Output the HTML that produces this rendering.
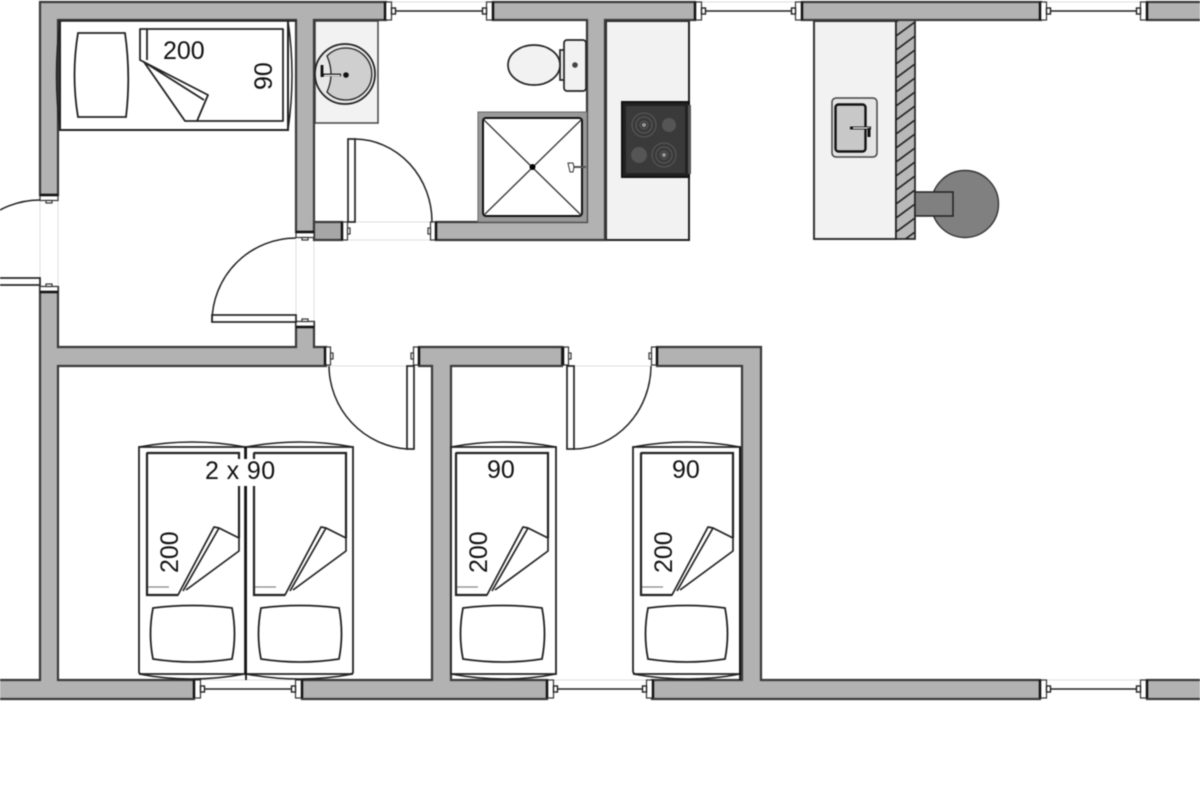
<!DOCTYPE html>
<html><head><meta charset="utf-8"><title>Floor plan</title>
<style>html,body{margin:0;padding:0;background:#fff}svg{display:block;filter:blur(.4px)}text{font-family:"Liberation Sans",sans-serif;font-size:25px;fill:#111}</style>
</head><body>
<svg width="1200" height="800" viewBox="0 0 1200 800" xmlns="http://www.w3.org/2000/svg">
<defs>
<pattern id="h" width="19" height="14" patternUnits="userSpaceOnUse" patternTransform="translate(896,8)">
<rect width="19" height="14" fill="#b8b8b8"/><path d="M0 14L19 0" stroke="#222" stroke-width="1.7" fill="none"/></pattern>
<g id="j"><rect x=".5" y="0" width="6" height="18" fill="#fff" stroke="#333" stroke-width="1.2"/><path d="M0 0V18" stroke="#111" stroke-width="2.4"/><rect x="6.5" y="6" width="4" height="6" fill="#fff" stroke="#222" stroke-width="1.4"/></g>
<g id="d"><rect x=".5" y="0" width="5" height="18" fill="#fff" stroke="#333" stroke-width="1.2"/><path d="M0 0V18" stroke="#111" stroke-width="2.4"/><rect x="5.500" y="6" width="2.500" height="6" fill="#fff" stroke="#333" stroke-width="1.2"/></g>
<g id="s" fill="none" stroke="#222" stroke-width="2">
<path d="M0 142V0H92V98L39 137M0 142H31L67 74L72 75L92 85M36 138L72 75" stroke-linejoin="round" stroke-width="1.7"/>
<path d="M0 0H92V85M0 0V142H31" stroke-width="2.2"/>
<path d="M1 134H22" stroke="#888" stroke-width="1.2"/>
</g>
</defs>
<rect width="1200" height="800" fill="#fff"/>

<!-- faint opening lines -->
<g stroke="#dedede" stroke-width="1" fill="none">
<path d="M40 200V285M58 200V285M296 240V322M314 240V322M349 222H436M349 240H436M331 366H412M569 366H652"/>
<path d="M391 2H486M701 2H797M1047 2H1141M200 680H296M553 680H647M1047 680H1141"/>
</g>

<!-- furniture fills -->
<rect x="315" y="21" width="63" height="102" fill="#f2f2f2" stroke="#444" stroke-width="1.5"/>
<rect x="606" y="21" width="83" height="219" fill="#f2f2f2" stroke="#222" stroke-width="2"/>
<rect x="814" y="21" width="82" height="218" fill="#f2f2f2" stroke="#333" stroke-width="2"/>
<rect x="896" y="18" width="19" height="221" fill="url(#h)" stroke="#222" stroke-width="1.700"/>

<!-- walls -->
<g fill="#b2b2b2" stroke="#3a3a3a" stroke-width="2.200" stroke-linejoin="miter">
<path d="M40 2H386V20H314V232H296V20H58V195H40Z"/>
<rect x="314" y="222" width="28" height="18" fill="#a6a6a6"/>
<path d="M493 2H695V20H605V240H436V222H587V20H493Z"/>
<rect x="802" y="2" width="239" height="18"/>
<rect x="1147" y="2" width="60" height="18"/>
<path d="M40 287H58V347H296V322H314V347H326V366H58V680H194V699H-5V680H40Z"/>
<path d="M419 347H562V366H451V680H547V699H302V680H432V366H419Z"/>
<path d="M657 347H761V680H1040V699H652V680H742V366H657Z"/>
<rect x="1147" y="680" width="60" height="19"/>
</g>

<!-- window jambs and lines -->
<g>
<path d="M395 11H482M705 11H793M1051 11H1137M204 689H292M557 689H643M1051 689H1137" stroke="#222" stroke-width="1.600"/>
<use href="#j" transform="translate(385,2)"/><use href="#j" transform="translate(493,2) scale(-1,1)"/>
<use href="#j" transform="translate(695,2)"/><use href="#j" transform="translate(802,2) scale(-1,1)"/>
<use href="#j" transform="translate(1040,2)"/><use href="#j" transform="translate(1147,2) scale(-1,1)"/>
<use href="#j" transform="translate(194,680)"/><use href="#j" transform="translate(302,680) scale(-1,1)"/>
<use href="#j" transform="translate(547,680)"/><use href="#j" transform="translate(653,680) scale(-1,1)"/>
<use href="#j" transform="translate(1040,680)"/><use href="#j" transform="translate(1147,680) scale(-1,1)"/>
</g>

<!-- door jambs -->
<use href="#d" transform="translate(58,195) rotate(90)"/>
<use href="#d" transform="translate(40,292) rotate(-90)"/>
<use href="#d" transform="translate(314,232) rotate(90)"/>
<use href="#d" transform="translate(296,327) rotate(-90)"/>
<use href="#d" transform="translate(342,222)"/>
<use href="#d" transform="translate(436,222) scale(-1,1)"/>
<use href="#d" transform="translate(325,347)"/>
<use href="#d" transform="translate(419,347) scale(-1,1)"/>
<use href="#d" transform="translate(563,347)"/>
<use href="#d" transform="translate(657,347) scale(-1,1)"/>

<!-- doors -->
<g fill="#fff" stroke="#222" stroke-width="1.700">
<rect x="-4" y="278" width="44" height="7"/>
<rect x="212" y="315" width="84" height="7"/>
<rect x="348" y="139" width="7" height="83"/>
<rect x="407" y="366" width="7" height="83"/>
<rect x="567" y="366" width="7" height="83"/>
</g>
<g fill="none" stroke="#222" stroke-width="1.500">
<path d="M40 200A85 85 0 0 0 -45 285"/>
<path d="M296 238A84 84 0 0 0 212 322"/>
<path d="M355 139A78 83 0 0 1 432 222"/>
<path d="M329 366A84 84 0 0 0 407 449"/>
<path d="M574 449A78 84 0 0 0 651 366"/>
</g>

<!-- top bed -->
<g fill="none" stroke="#222" stroke-width="1.800">
<path d="M60 21V130H288V21" fill="#fff" stroke-width="2"/>
<path d="M60 21Q53 75 60 130M288 21Q296 75 288 130M58 21H296" stroke-width="1.500"/>
<path d="M78 33H125Q131 75 126 117H78Q71 75 78 33Z"/>
<path d="M140 60V29H283V121H185L144 62L140 60L208 95L197 121M147 29V60M144 62L204 100" stroke-linejoin="round"/>
</g>

<!-- bottom beds outer -->
<g fill="#fff" stroke="#222" stroke-width="1.800">
<path d="M139 447V672Q139 674 142 674H245V447Z"/>
<path d="M246 447V674H350Q353 674 353 672V447Z"/>
<path d="M451 447V674H556V447Z"/>
<path d="M633 447V671Q633 674 636 674H740V447Z"/>
</g>
<g fill="none" stroke="#222" stroke-width="1.500">
<path d="M139 447Q192 437 245 447M246 447Q300 437 353 447M451 447Q503 437 556 447M633 447Q687 437 740 447"/>
<path d="M139 674Q190 684 245 674M246 674Q300 684 353 674M451 674Q505 684 556 674M633 674Q690 684 740 674"/>
</g>
<path d="M246 447V680" stroke="#111" stroke-width="1.800"/>
<path d="M740 447V680" stroke="#111" stroke-width="1.800"/>
<use href="#s" transform="translate(147,453)"/>
<use href="#s" transform="translate(254,453)"/>
<use href="#s" transform="translate(456,453)"/>
<use href="#s" transform="translate(641,453)"/>
<g fill="none" stroke="#222" stroke-width="1.800">
<path d="M153 608Q192 603 232 608Q237 634 232 659Q192 665 153 659Q148 634 153 608Z"/>
<path d="M261 608Q300 603 339 608Q344 634 339 659Q300 665 261 659Q256 634 261 608Z"/>
<path d="M463 608Q503 603 542 608Q547 634 542 659Q503 665 463 659Q458 634 463 608Z"/>
<path d="M648 608Q687 603 725 608Q730 634 725 659Q687 665 648 659Q643 634 648 608Z"/>
</g>
<rect x="205" y="459" width="70" height="27" fill="#fff"/>

<!-- basin round -->
<circle cx="345" cy="74" r="30" fill="#e8e8e8" stroke="#222" stroke-width="1.700"/>
<path d="M327 56A26 26 0 1 1 327 92Q335 74 327 56Z" fill="#cfcfcf" stroke="#222" stroke-width="1.300"/>
<path d="M322 65V77M322 75H341" stroke="#111" stroke-width="2.800"/>
<path d="M324 75.500H340" stroke="#fff" stroke-width="1.300"/>
<circle cx="346" cy="75" r="2.800" fill="#111"/>

<!-- toilet -->
<g stroke="#222" stroke-width="1.700" fill="#f2f2f2">
<rect x="560" y="50" width="5" height="30"/>
<ellipse cx="534" cy="65" rx="26" ry="20"/>
<rect x="564" y="40" width="22" height="51" rx="3"/>
</g>
<circle cx="575" cy="65" r="2.800" fill="#444"/>

<!-- shower -->
<rect x="478" y="112" width="109" height="110" fill="#999" stroke="#666" stroke-width="1"/>
<rect x="483" y="118" width="99" height="98" rx="3" fill="#fff" stroke="#111" stroke-width="2"/>
<path d="M484 120L581 215M581 120L484 215" stroke="#333" stroke-width="1.300"/>
<circle cx="532.500" cy="167" r="3" fill="#000"/>
<path d="M574 167H586" stroke="#555" stroke-width="2"/>
<path d="M568 163H573L574 167L573 172H570Z" fill="#fff" stroke="#333"/>

<!-- hob -->
<rect x="622" y="102" width="67" height="75" fill="#222" stroke="#111" stroke-width="2"/>
<rect x="688" y="105" width="3" height="69" fill="#555"/>
<rect x="626" y="106" width="59" height="67" fill="#3a3a3a"/>
<g fill="none" stroke="#5a5a5a" stroke-width="1">
<circle cx="644" cy="125" r="12"/><circle cx="644" cy="125" r="8"/><circle cx="644" cy="125" r="4"/>
<circle cx="664" cy="155" r="12"/><circle cx="664" cy="155" r="8"/><circle cx="664" cy="155" r="4"/>
</g>
<circle cx="669" cy="125" r="7" fill="#555"/><circle cx="639" cy="155" r="8" fill="#555"/>
<circle cx="644" cy="125" r="2" fill="#999"/><circle cx="664" cy="155" r="2" fill="#999"/>

<!-- kitchen sink -->
<rect x="832" y="98" width="45" height="59" rx="4" fill="#e4e4e4" stroke="#444" stroke-width="1.500"/>
<rect x="835.500" y="104.500" width="30" height="47" rx="3" fill="#c8c8c8" stroke="#111" stroke-width="2.400"/>
<path d="M850 128H871" stroke="#111" stroke-width="3"/><path d="M853 128H870" stroke="#fff" stroke-width="1.300"/>
<path d="M869 128V137" stroke="#111" stroke-width="3"/>

<!-- stove -->
<circle cx="965" cy="204" r="33.500" fill="#808080" stroke="#333" stroke-width="1.400"/>
<rect x="915" y="192" width="38" height="24" fill="#808080" stroke="#222" stroke-width="1.500"/>

<!-- labels -->
<text x="163" y="59">200</text>
<text transform="translate(272,90) rotate(-90)">90</text>
<text x="205" y="479" xml:space="preserve" letter-spacing=".4">2 x 90</text>
<text x="487" y="478">90</text>
<text x="672" y="478">90</text>
<text transform="translate(178,573) rotate(-90)">200</text>
<text transform="translate(487,573) rotate(-90)">200</text>
<text transform="translate(672,573) rotate(-90)">200</text>
</svg>
</body></html>
